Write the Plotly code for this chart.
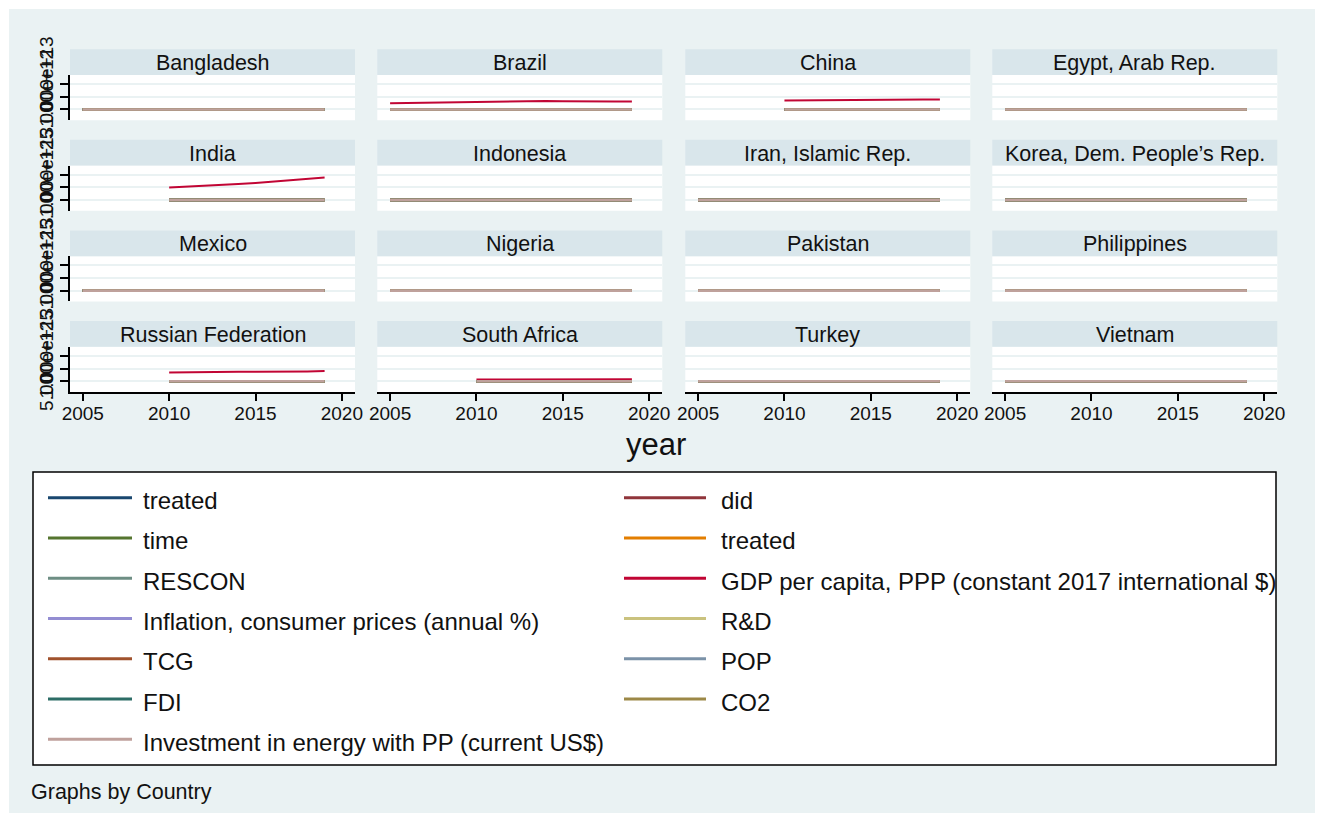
import plotly.graph_objects as go

OFF = 8                          # page body margin in the browser
W, H = 1323 - OFF, 813 - OFF     # figure drawn from (8, 8) to the window edge

# ---------------- data ----------------
countries = ["Bangladesh", "Brazil", "China", "Egypt, Arab Rep.",
             "India", "Indonesia", "Iran, Islamic Rep.", "Korea, Dem. People’s Rep.",
             "Mexico", "Nigeria", "Pakistan", "Philippines",
             "Russian Federation", "South Africa", "Turkey", "Vietnam"]

years = [2005, 2006, 2007, 2008, 2009, 2010, 2011, 2012, 2013, 2014,
         2015, 2016, 2017, 2018, 2019]

# first year with data in each panel
first_year = {"Bangladesh": 2005, "Brazil": 2005, "China": 2010, "Egypt, Arab Rep.": 2005,
              "India": 2010, "Indonesia": 2005, "Iran, Islamic Rep.": 2005,
              "Korea, Dem. People’s Rep.": 2005, "Mexico": 2005, "Nigeria": 2005,
              "Pakistan": 2005, "Philippines": 2005, "Russian Federation": 2010,
              "South Africa": 2010, "Turkey": 2005, "Vietnam": 2005}

series_names = ["treated", "did", "time", "treated", "RESCON",
                "GDP per capita, PPP (constant 2017 international $)",
                "Inflation, consumer prices (annual %)", "R&D", "TCG", "POP",
                "FDI", "CO2", "Investment in energy with PP (current US$)"]
series_colors = ["#1a476f", "#90353b", "#55752f", "#e37e00", "#6e8e84",
                 "#c10534", "#938dd2", "#cac27e", "#a0522d", "#7b92a8",
                 "#2d6d66", "#9c8847", "#bfa19c"]
GDP_INDEX = 5

# GDP (PPP), in units of 1e12, starting at first_year
gdp_e12 = {
    "Brazil": [2.50, 2.60, 2.75, 2.90, 2.90, 3.10, 3.20, 3.25, 3.35, 3.35,
               3.25, 3.15, 3.15, 3.20, 3.22],
    "China": [3.60, 3.68, 3.74, 3.78, 3.80, 3.82, 3.86, 3.90, 3.95, 4.00],
    "India": [5.00, 5.30, 5.60, 5.95, 6.35, 6.80, 7.30, 7.85, 8.40, 9.00],
    "Russian Federation": [3.47, 3.60, 3.70, 3.75, 3.78, 3.72, 3.72, 3.80, 3.90, 4.02],
    "South Africa": [0.68, 0.70, 0.72, 0.73, 0.74, 0.74, 0.75, 0.75, 0.76, 0.76],
}
# all the other series are ~0 on the 1e13 scale of these panels
other_series_level = 0.0

y_tickvals = [0, 5e12, 1e13]
y_ticktext = ["0", "5.000e+12", "1.000e+13"]
x_tickvals = [2005, 2010, 2015, 2020]

# ---------------- layout geometry (pixels, window coordinates) ----------------
col_x0 = [70, 377.3, 685.3, 992.3]
panel_w = 285
strip_top0 = 49.3
row_step = 90.57
strip_h = 25.7
plot_h = 45.3

BG = "#eaf2f3"
STRIP = "#d9e6eb"
FONT = "Liberation Sans, Arial, sans-serif"
TXT = "#111111"


def px(x):
    return (x - OFF) / W


def py(y):
    return 1 - (y - OFF) / H


fig = go.Figure()
shapes = []
annotations = []

# graph region background
shapes.append(dict(type="rect", xref="paper", yref="paper", layer="below",
                   x0=px(9), x1=1, y0=0, y1=py(9),
                   fillcolor=BG, line=dict(width=0)))

layout_axes = {}
for i, c in enumerate(countries):
    r, col = divmod(i, 4)
    k = i + 1
    xa = "x" if k == 1 else f"x{k}"
    ya = "y" if k == 1 else f"y{k}"
    xkey = "xaxis" if k == 1 else f"xaxis{k}"
    ykey = "yaxis" if k == 1 else f"yaxis{k}"
    x0 = col_x0[col]
    x1 = x0 + panel_w
    st = strip_top0 + r * row_step
    pt = st + strip_h
    pb = pt + plot_h

    # white plot region and strip
    shapes.append(dict(type="rect", xref="paper", yref="paper", layer="below",
                       x0=px(x0), x1=px(x1), y0=py(pb), y1=py(pt),
                       fillcolor="white", line=dict(width=0)))
    shapes.append(dict(type="rect", xref="paper", yref="paper", layer="below",
                       x0=px(x0), x1=px(x1), y0=py(pt), y1=py(st),
                       fillcolor=STRIP, line=dict(width=0)))
    annotations.append(dict(text=c, xref="paper", yref="paper",
                            x=px((x0 + x1) / 2), y=py((st + pt) / 2 + 1),
                            xanchor="center", yanchor="middle", showarrow=False,
                            font=dict(size=21.5, color=TXT, family=FONT)))

    bottom = (r == 3)
    left = (col == 0)
    layout_axes[xkey] = dict(
        domain=[px(x0), px(x1)], anchor=ya, range=[2004.26, 2020.76],
        automargin=False,
        showgrid=False, zeroline=False,
        showline=bottom, linecolor="black", linewidth=1.5,
        ticks="outside" if bottom else "", ticklen=7, tickwidth=1.5, tickcolor="black",
        tickvals=x_tickvals, showticklabels=bottom, ticklabelstandoff=-4,
        tickfont=dict(size=19, color=TXT, family=FONT),
    )
    layout_axes[ykey] = dict(
        domain=[py(pb), py(pt)], anchor=xa, range=[-4.3e12, 1.372e13],
        automargin=False,
        showgrid=True, gridcolor=BG, gridwidth=1.5, zeroline=False,
        showline=left, linecolor="black", linewidth=1.5,
        ticks="outside" if left else "", ticklen=8, tickwidth=1.5, tickcolor="black",
        tickvals=y_tickvals, ticktext=y_ticktext, showticklabels=left,
        tickangle=-90, tickfont=dict(size=19, color=TXT, family=FONT),
    )

    yrs = [y for y in years if y >= first_year[c]]
    for s, (name, color) in enumerate(zip(series_names, series_colors)):
        if s == GDP_INDEX:
            if c not in gdp_e12:
                continue
            vals = [v * 1e12 for v in gdp_e12[c]]
            lw = 2
        else:
            vals = [other_series_level for _ in yrs]
            lw = 2.6
        fig.add_trace(go.Scatter(x=yrs, y=vals, mode="lines", name=name,
                                 line=dict(color=color, width=lw),
                                 xaxis=xa, yaxis=ya, showlegend=False,
                                 hoverinfo="skip"))

# x-axis title
annotations.append(dict(text="year", xref="paper", yref="paper",
                        x=px(656), y=py(444), xanchor="center", yanchor="middle",
                        showarrow=False, font=dict(size=31, color=TXT, family=FONT)))
# note
annotations.append(dict(text="Graphs by Country", xref="paper", yref="paper",
                        x=px(29), y=py(792), xanchor="left", yanchor="middle",
                        showarrow=False, font=dict(size=21.5, color=TXT, family=FONT)))

# legend box (drawn)
shapes.append(dict(type="rect", xref="paper", yref="paper", layer="below",
                   x0=px(33), x1=px(1276), y0=py(765), y1=py(472),
                   fillcolor="white", line=dict(color="black", width=1.5)))
leg_line_x = [(48, 132, 141), (624, 706, 719)]
for s, (name, color) in enumerate(zip(series_names, series_colors)):
    rr, cc = divmod(s, 2)
    ly = 497.7 + rr * 40.27
    lx0, lx1, tx = leg_line_x[cc]
    shapes.append(dict(type="line", xref="paper", yref="paper", layer="above",
                       x0=px(lx0), x1=px(lx1), y0=py(ly), y1=py(ly),
                       line=dict(color=color, width=3)))
    annotations.append(dict(text=name, xref="paper", yref="paper",
                            x=px(tx), y=py(ly + 3), xanchor="left", yanchor="middle",
                            showarrow=False,
                            font=dict(size=24, color=TXT, family=FONT)))

fig.update_layout(
    width=W, height=H, autosize=False,
    margin=dict(l=0, r=0, t=0, b=0, pad=0),
    paper_bgcolor="white", plot_bgcolor="rgba(0,0,0,0)",
    showlegend=False, shapes=shapes, annotations=annotations,
    font=dict(family=FONT, color=TXT),
    **layout_axes,
)

fig.write_html("out.html")
